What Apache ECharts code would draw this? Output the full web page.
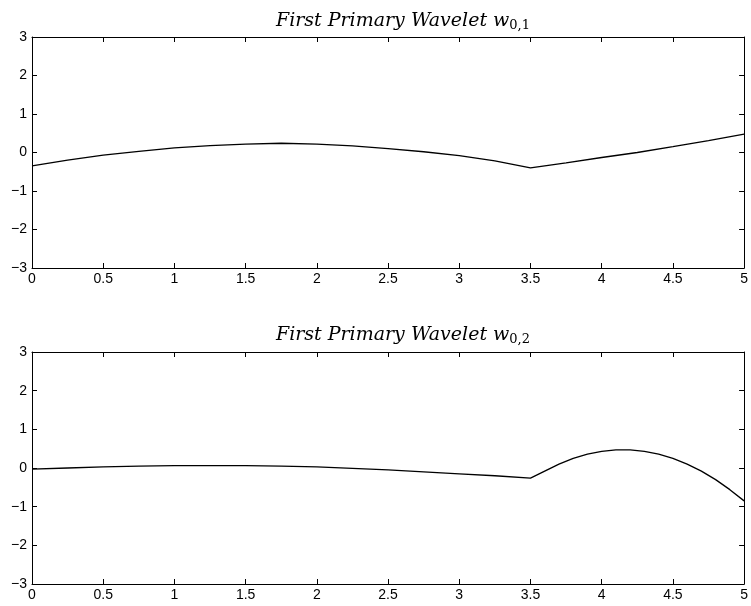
<!DOCTYPE html>
<html>
<head>
<meta charset="utf-8">
<script src="https://cdn.jsdelivr.net/npm/echarts@6/dist/echarts.min.js"></script>
<style>
  html, body { margin: 0; padding: 0; background: #fff; }
  #chart { width: 751px; height: 606px; }
</style>
</head>
<body>
<div id="chart"></div>
<script>
// x positions and values
const xTop = [0, 0.25, 0.5, 0.75, 1, 1.25, 1.5, 1.75, 2, 2.25, 2.5, 2.75, 3, 3.25, 3.5,
  3.75, 4, 4.25, 4.5, 4.75, 5];
const wTop = [-0.35, -0.20, -0.07, 0.03, 0.12, 0.18, 0.22, 0.24, 0.22, 0.17, 0.10, 0.02, -0.08, -0.22, -0.40,
  -0.27, -0.13, 0.00, 0.15, 0.31, 0.48];

const xBottom = [0, 0.25, 0.5, 0.75, 1, 1.25, 1.5, 1.75, 2, 2.25, 2.5, 2.75, 3, 3.25, 3.5,
  3.6, 3.7, 3.8, 3.9, 4, 4.1, 4.2, 4.3, 4.4, 4.5, 4.6, 4.7, 4.8, 4.9, 5];
const wBottom = [-0.03, 0.0, 0.03, 0.05, 0.06, 0.06, 0.06, 0.05, 0.03, -0.01, -0.05, -0.10, -0.15, -0.20, -0.26,
  -0.08, 0.10, 0.25, 0.36, 0.43, 0.47, 0.47, 0.43, 0.36, 0.25, 0.10, -0.08, -0.30, -0.56, -0.85];

const xTicks = [0, 0.5, 1, 1.5, 2, 2.5, 3, 3.5, 4, 4.5, 5];
const yTicks = [-3, -2, -1, 0, 1, 2, 3];
const titles = [['First Primary Wavelet ', 'w', '0,1'], ['First Primary Wavelet ', 'w', '0,2']];

const labelFont = { color: '#000', fontFamily: 'Liberation Sans, Arial, sans-serif', fontSize: 14 };
const tick = { show: true, inside: true, length: 5, lineStyle: { color: '#000', width: 1 } };

const grids = [
  { left: 32, right: 4, top: 37, height: 231 },
  { left: 32, right: 4, top: 352, height: 232 }
];

const xAxes = [];
const yAxes = [];
grids.forEach((g, i) => {
  const base = {
    gridIndex: i, type: 'value', min: 0, max: 5, interval: 0.5,
    splitLine: { show: false }, axisTick: tick,
    axisLine: { show: true, onZero: false, lineStyle: { color: '#000', width: 1 } }
  };
  xAxes.push(Object.assign({}, base, {
    position: 'bottom',
    axisLabel: Object.assign({ margin: 4, formatter: v => String(v) }, labelFont)
  }));
  xAxes.push(Object.assign({}, base, { position: 'top', axisLabel: { show: false } }));
  const ybase = {
    gridIndex: i, type: 'value', min: -3, max: 3, interval: 1,
    splitLine: { show: false }, axisTick: tick,
    axisLine: { show: true, onZero: false, lineStyle: { color: '#000', width: 1 } }
  };
  yAxes.push(Object.assign({}, ybase, {
    position: 'left',
    axisLabel: Object.assign({ margin: 5, formatter: v => (v < 0 ? '\u2212' + Math.abs(v) : String(v)) }, labelFont)
  }));
  yAxes.push(Object.assign({}, ybase, { position: 'right', axisLabel: { show: false } }));
});

const serif = { fontFamily: 'DejaVu Serif, serif', fontWeight: 'normal', color: '#000' };
const chart = echarts.init(document.getElementById('chart'), null, { renderer: 'canvas' });
chart.setOption({
  backgroundColor: '#fff',
  animation: false,
  title: titles.map((t, i) => ({
    text: `{a|${t[0]}}{w|${t[1]}}{s|${t[2]}}`,
    left: 398,
    textAlign: 'center',
    top: i === 0 ? 6 : 320,
    textStyle: {
      fontWeight: 'normal',
      rich: {
        a: Object.assign({ fontStyle: 'italic', fontSize: 19 }, serif),
        w: Object.assign({ fontStyle: 'italic', fontSize: 19 }, serif),
        s: Object.assign({ fontSize: 13, verticalAlign: 'bottom', padding: [8, 0, 0, 0] }, serif)
      }
    }
  })),
  grid: grids,
  xAxis: xAxes,
  yAxis: yAxes,
  series: [
    {
      type: 'line', xAxisIndex: 0, yAxisIndex: 0, symbol: 'none',
      lineStyle: { color: '#000', width: 1.3 },
      data: xTop.map((x, k) => [x, wTop[k]])
    },
    {
      type: 'line', xAxisIndex: 2, yAxisIndex: 2, symbol: 'none',
      lineStyle: { color: '#000', width: 1.3 },
      data: xBottom.map((x, k) => [x, wBottom[k]])
    }
  ]
});
</script>
</body>
</html>
